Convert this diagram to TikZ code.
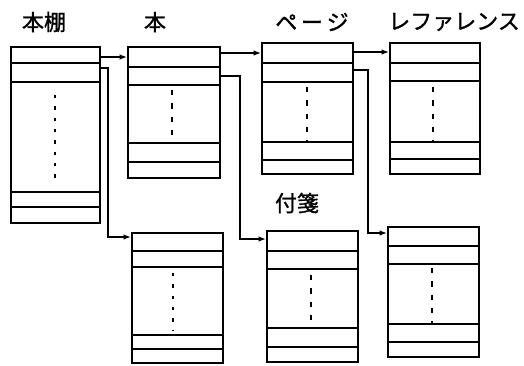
\documentclass[tikz,border=0pt]{standalone}
\usepackage{fontspec}
\newfontfamily\jpfont[FakeBold=1.2]{Noto Sans CJK JP}
\usetikzlibrary{arrows.meta,fit}
\begin{document}
\begin{tikzpicture}[x=0.75pt,y=-0.75pt,
  recbox/.style={draw,line width=1.4pt,inner sep=0pt,rectangle},
  rowline/.style={line width=1.2pt},
  dotline/.style={line width=1.5pt,dash pattern=on 2.5pt off 6pt},
  dashline/.style={line width=1.5pt,dash pattern=on 4pt off 6pt},
  link/.style={line width=1.1pt,-{Latex[length=5.5pt,width=4pt]}},
  lbl/.style={font=\jpfont\fontsize{16.5}{16.5}\selectfont,inner sep=0pt}]
\useasboundingbox (0,0) rectangle (524,365);
% labels
\node[lbl] (t1) at (44,22) {本棚};
\node[lbl] (t2) at (155,22) {本};
\node[lbl] (t3) at (312,22) {ペ\,ー\,ジ};
\node[lbl] (t4) at (454,22) {レファレンス};
\node[lbl] (t5) at (297,203) {付箋};
% boxes
\node[recbox,fit={(11,47) (100,223)}] (b1) {};
\node[recbox,fit={(128,47) (220,178)}] (b2) {};
\node[recbox,fit={(262,43) (353,174)}] (b3) {};
\node[recbox,fit={(390,43) (480,174)}] (b4) {};
\node[recbox,fit={(132,233) (223,363)}] (b5) {};
\node[recbox,fit={(267,231) (358,362)}] (b6) {};
\node[recbox,fit={(388,227) (479,357)}] (b7) {};
% row lines
\foreach \b/\ya/\yb/\yc/\yd in {b1/63/82/192/207, b2/67/85/143/162, b3/63/82/142/160,
  b4/63/81/142/159, b5/251/267/335/349, b6/251/269/328/347, b7/246/264/324/342}{
  \foreach \y in {\ya,\yb,\yc,\yd}{
    \draw[rowline] (\b.west |- 0,\y) -- (\b.east |- 0,\y);
  }
}
% vertical dotted / dashed lines
\draw[dotline] (55,95) -- (55,183);
\draw[dashline] (172,90) -- (172,143);
\draw[dashline] (307,87) -- (307,142);
\draw[dashline] (433,87) -- (433,142);
\draw[dotline] (173,273) -- (173,331);
\draw[dashline] (311,275) -- (311,328);
\draw[dashline] (432,268) -- (432,324);
% connector start points
\coordinate (s1) at (100,57);
\coordinate (s2) at (100,68);
\coordinate (s3) at (220,53);
\coordinate (s4) at (220,76);
\coordinate (s5) at (353,52);
\coordinate (s6) at (353,70);
\coordinate (e4) at (0,237);
\coordinate (e5) at (0,239);
\coordinate (e6) at (0,233);
% connectors
\draw[link] (s1) -- (b2.west |- s1);
\draw[link] (s2) -- (108,68) -- (108,237) -- (b5.west |- e4);
\draw[link] (s3) -- (b3.west |- s3);
\draw[link] (s4) -- (240,76) -- (240,239) -- (b6.west |- e5);
\draw[link] (s5) -- (b4.west |- s5);
\draw[link] (s6) -- (368,70) -- (368,233) -- (b7.west |- e6);
\end{tikzpicture}
\end{document}
